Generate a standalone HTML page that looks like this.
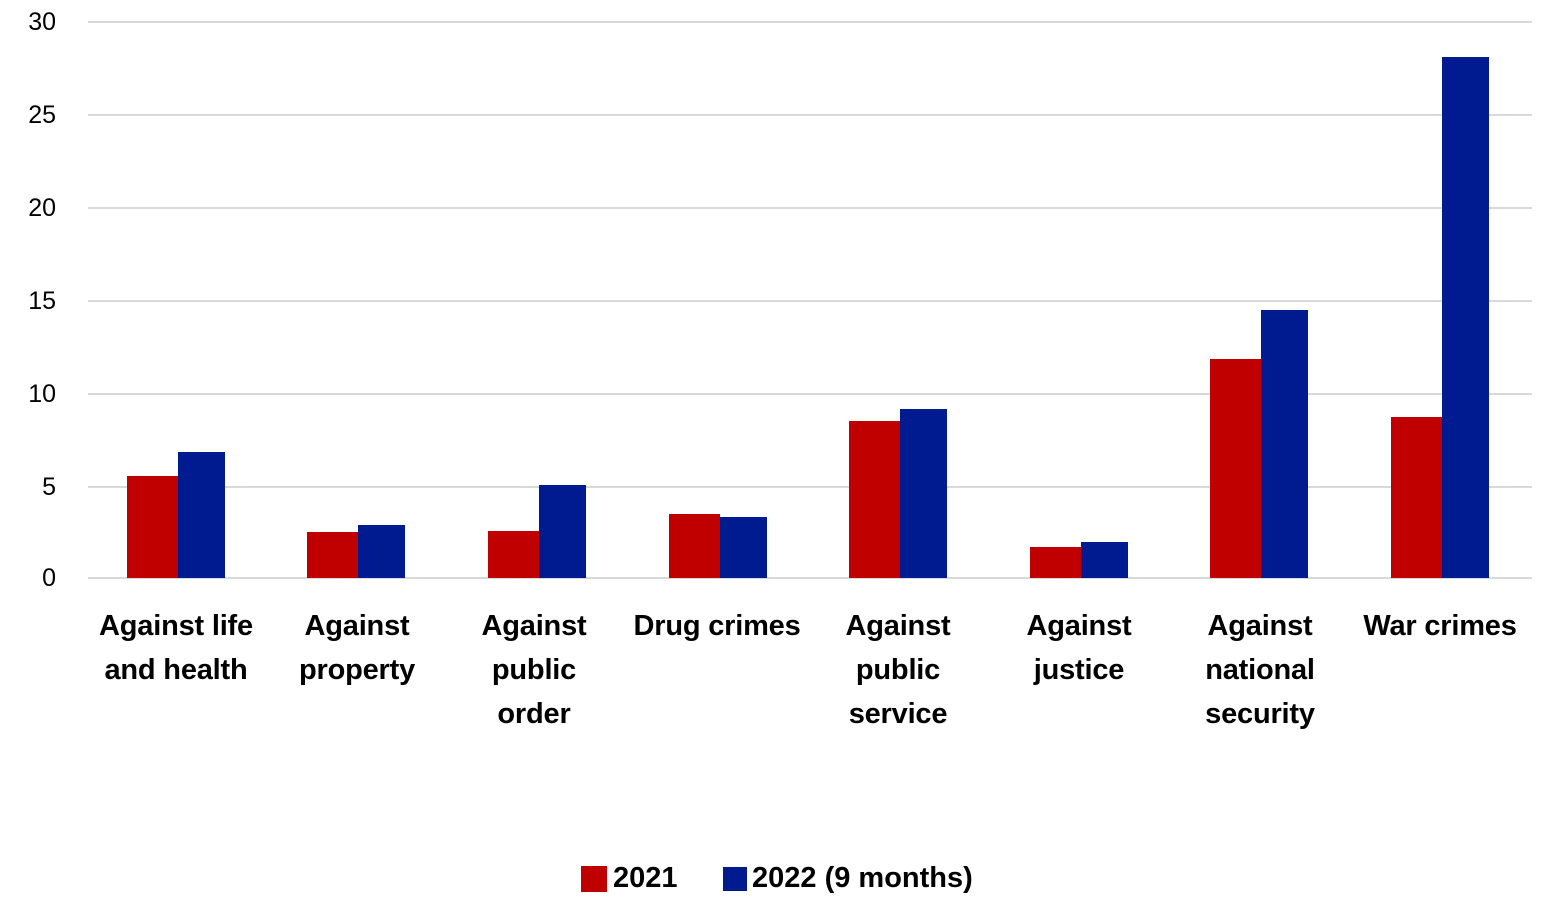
<!DOCTYPE html>
<html><head><style>
body{margin:0;width:1560px;height:924px;background:#fff;position:relative;overflow:hidden;font-family:"Liberation Sans",sans-serif}
.g{position:absolute;left:88px;width:1444px;height:2px;background:#d9d9d9}
.t{position:absolute;left:0;width:56px;text-align:right;font-size:25px;color:#000;line-height:24px}
.r{position:absolute;background:#C00000;width:51px}
.b{position:absolute;background:#001A8F;width:47px}
.l{position:absolute;width:220px;text-align:center;font-weight:bold;font-size:29px;line-height:44px;top:604px;letter-spacing:-0.2px}
</style></head><body>
<div class="g" style="top:21px"></div><div class="g" style="top:114px"></div><div class="g" style="top:207px"></div><div class="g" style="top:300px"></div><div class="g" style="top:393px"></div><div class="g" style="top:486px"></div><div class="g" style="top:577px"></div>
<div class="t" style="top:10px">30</div><div class="t" style="top:103px">25</div><div class="t" style="top:196px">20</div><div class="t" style="top:289px">15</div><div class="t" style="top:382px">10</div><div class="t" style="top:475px">5</div><div class="t" style="top:566px">0</div>

<div class="r" style="left:127px;top:476px;height:102px"></div><div class="b" style="left:178px;top:452px;height:126px"></div>
<div class="r" style="left:307px;top:532px;height:46px"></div><div class="b" style="left:358px;top:525px;height:53px"></div>
<div class="r" style="left:488px;top:531px;height:47px"></div><div class="b" style="left:539px;top:485px;height:93px"></div>
<div class="r" style="left:669px;top:514px;height:64px"></div><div class="b" style="left:720px;top:517px;height:61px"></div>
<div class="r" style="left:849px;top:421px;height:157px"></div><div class="b" style="left:900px;top:409px;height:169px"></div>
<div class="r" style="left:1030px;top:547px;height:31px"></div><div class="b" style="left:1081px;top:542px;height:36px"></div>
<div class="r" style="left:1210px;top:359px;height:219px"></div><div class="b" style="left:1261px;top:310px;height:268px"></div>
<div class="r" style="left:1391px;top:417px;height:161px"></div><div class="b" style="left:1442px;top:57px;height:521px"></div>

<div class="l" style="left:66px">Against life<br>and health</div>
<div class="l" style="left:247px">Against<br>property</div>
<div class="l" style="left:424px">Against<br>public<br>order</div>
<div class="l" style="left:607px">Drug crimes</div>
<div class="l" style="left:788px">Against<br>public<br>service</div>
<div class="l" style="left:969px">Against<br>justice</div>
<div class="l" style="left:1150px">Against<br>national<br>security</div>
<div class="l" style="left:1330px">War crimes</div>

<div style="position:absolute;left:581px;top:866px;width:26px;height:26px;background:#C00000"></div>
<div style="position:absolute;left:613px;top:860px;font-weight:bold;font-size:29px;line-height:36px">2021</div>
<div style="position:absolute;left:723px;top:867px;width:24px;height:24px;background:#001A8F"></div>
<div style="position:absolute;left:752px;top:860px;font-weight:bold;font-size:29px;line-height:36px">2022 (9 months)</div>
</body></html>
